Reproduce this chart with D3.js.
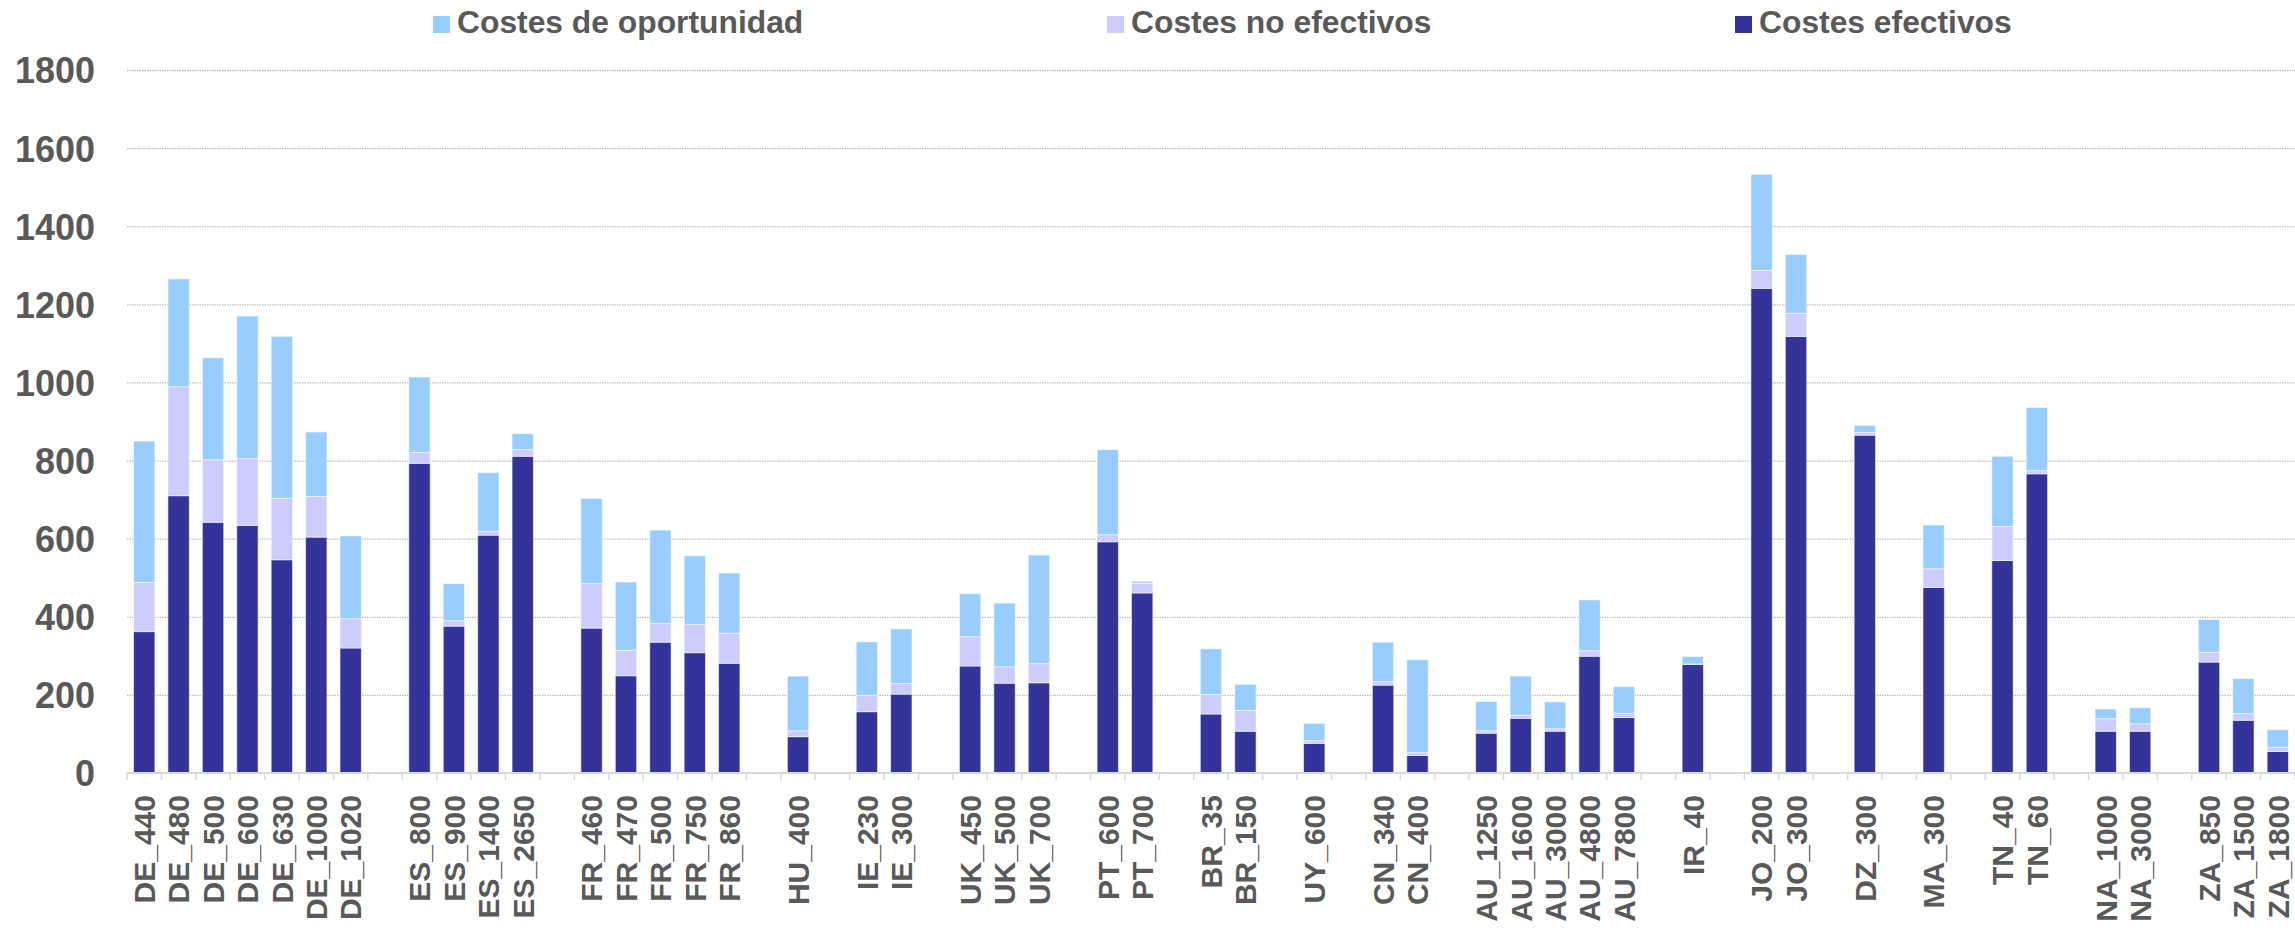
<!DOCTYPE html>
<meta charset="utf-8">
<script src="https://d3js.org/d3.v7.min.js"></script>
<style>
body { margin: 0; background: #fff; }
text { font-family: Arial, "Liberation Sans", sans-serif; font-weight: bold; fill: #595959; }
</style>
<body>
<div id="chart"></div>
<script>
// categories, "" = empty slot between country groups
var categories = ["DE_440","DE_480","DE_500","DE_600","DE_630","DE_1000","DE_1020","",
  "ES_800","ES_900","ES_1400","ES_2650","",
  "FR_460","FR_470","FR_500","FR_750","FR_860","",
  "HU_400","",
  "IE_230","IE_300","",
  "UK_450","UK_500","UK_700","",
  "PT_600","PT_700","",
  "BR_35","BR_150","",
  "UY_600","",
  "CN_340","CN_400","",
  "AU_1250","AU_1600","AU_3000","AU_4800","AU_7800","",
  "IR_40","",
  "JO_200","JO_300","",
  "DZ_300","",
  "MA_300","",
  "TN_40","TN_60","",
  "NA_1000","NA_3000","",
  "ZA_850","ZA_1500","ZA_1800"];

var costesEfectivos = [362,710,642,634,546,604,320,0,
  793,376,609,811,0,
  371,249,335,308,281,0,
  93,0,
  157,202,0,
  274,230,231,0,
  592,461,0,
  151,107,0,
  76,0,
  225,45,0,
  102,140,107,299,142,0,
  278,0,
  1241,1118,0,
  865,0,
  475,0,
  544,766,0,
  107,107,0,
  284,135,55];

var costesNoEfectivos = [126,279,160,171,157,104,75,0,
  28,14,9,17,0,
  114,65,48,72,77,0,
  15,0,
  42,27,0,
  75,42,49,0,
  18,25,0,
  50,53,0,
  7,0,
  9,7,0,
  6,8,6,14,10,0,
  1,0,
  46,59,0,
  7,0,
  48,0,
  87,8,0,
  32,19,0,
  25,17,11];

var costesOportunidad = [362,276,261,365,415,165,212,0,
  193,95,151,41,0,
  218,175,239,176,154,0,
  140,0,
  137,140,0,
  110,163,278,0,
  218,5,0,
  117,67,0,
  44,0,
  101,238,0,
  75,100,69,130,69,0,
  19,0,
  246,151,0,
  18,0,
  112,0,
  180,162,0,
  25,41,0,
  84,90,45];

var yTicks = [0,200,400,600,800,1000,1200,1400,1600,1800];

var seriesNames = ["Costes efectivos","Costes no efectivos","Costes de oportunidad"];
var seriesColors = ["#333399","#ccccff","#99ccff"];
var legendOrder = [2,1,0];
var legendX = [433,1107,1735];

var W = 2295, H = 930;
var margin = {top: 70, right: 0, bottom: 157, left: 127};
var width = W - margin.left - margin.right,
    height = H - margin.top - margin.bottom;

var svg = d3.select("#chart").append("svg")
    .attr("width", W)
    .attr("height", H);

var g = svg.append("g")
    .attr("transform", "translate(" + margin.left + "," + margin.top + ")");

var rows = categories.map(function(c, i) {
  return {i: i, name: c, ef: costesEfectivos[i], ne: costesNoEfectivos[i], op: costesOportunidad[i]};
});

var x = d3.scaleBand()
  .domain(d3.range(categories.length))
  .range([0, width])
  .paddingInner(0.38)
  .paddingOuter(0.19);

var y = d3.scaleLinear()
  .domain([0, 1800])
  .range([height, 0]);

// gridlines
g.append("g")
  .call(d3.axisLeft(y).tickValues(yTicks.slice(1)).tickSize(-width).tickFormat(""))
  .call(function(s) {
    s.select(".domain").remove();
    s.selectAll("line").attr("stroke", "#bdbdbd").attr("stroke-width", 1.3).attr("stroke-dasharray", "1.5,1");
  });

// y labels
g.append("g")
  .call(d3.axisLeft(y).tickValues(yTicks).tickSize(0).tickPadding(32).tickFormat(d3.format("d")))
  .call(function(s) {
    s.select(".domain").remove();
    s.selectAll("text").style("font-size", "36px").attr("dy", "0.36em");
  });

// stacked bars
var stack = d3.stack().keys(["ef","ne","op"]);
var layers = stack(rows.filter(function(d) { return d.name != ""; }));

g.selectAll(".layer")
  .data(layers)
  .enter().append("g")
    .attr("fill", function(d, i) { return seriesColors[i]; })
  .selectAll("rect")
  .data(function(d) { return d; })
  .enter().append("rect")
    .attr("x", function(d) { return x(d.data.i); })
    .attr("width", x.bandwidth())
    .attr("y", function(d) { return y(d[1]); })
    .attr("height", function(d) { return y(d[0]) - y(d[1]); })
    .attr("stroke", "rgba(255,255,255,0.55)")
    .attr("stroke-width", 1);

// x axis line and boundary ticks
var xa = g.append("g").attr("transform", "translate(0," + height + ")");
xa.append("line")
  .attr("x1", 0).attr("x2", width)
  .attr("stroke", "#d9d9d9").attr("stroke-width", 2);
xa.selectAll(".tk")
  .data(d3.range(categories.length + 1))
  .enter().append("line")
    .attr("x1", function(d) { return d * x.step(); })
    .attr("x2", function(d) { return d * x.step(); })
    .attr("y1", 0).attr("y2", 7)
    .attr("stroke", "#d9d9d9").attr("stroke-width", 1.5);

// category labels, rotated
xa.selectAll(".lbl")
  .data(rows.filter(function(d) { return d.name != ""; }))
  .enter().append("text")
    .attr("transform", function(d) {
      return "translate(" + (x(d.i) + x.bandwidth() / 2) + ",22) rotate(-90)";
    })
    .attr("text-anchor", "end")
    .attr("dy", "0.36em")
    .style("font-size", "30px")
    .text(function(d) { return d.name; });

// legend
var leg = svg.selectAll(".leg")
  .data(legendOrder)
  .enter().append("g")
    .attr("transform", function(d, i) { return "translate(" + legendX[i] + ",0)"; });
leg.append("rect")
  .attr("y", 16).attr("width", 17).attr("height", 17)
  .attr("fill", function(d) { return seriesColors[d]; });
leg.append("text")
  .attr("x", 24).attr("y", 33)
  .style("font-size", "31.8px")
  .text(function(d) { return seriesNames[d]; });
</script>
</body>
